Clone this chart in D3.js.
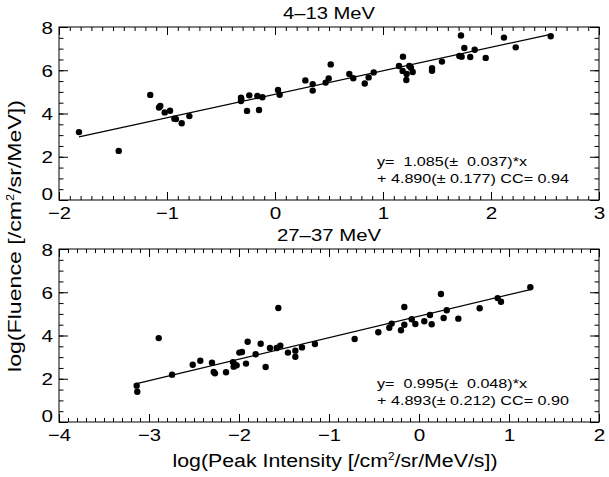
<!DOCTYPE html>
<html>
<head>
<meta charset="utf-8">
<script src="https://cdn.jsdelivr.net/npm/d3@7"></script>
<style>
  body { margin: 0; background: #fff; }
  svg { display: block; font-family: "Liberation Sans", Arial, sans-serif; }
</style>
</head>
<body>
<div id="chart"></div>
<script>
// 4-13 MeV channel
const topX = [-1.815, -1.447, -1.155, -1.074, -1.062, -1.021, -0.972, -0.932, -0.917, -0.864, -0.793,
  -0.315, -0.315, -0.312, -0.259, -0.238, -0.164, -0.148, -0.117, 0.028, 0.043, 0.281, 0.349, 0.349,
  0.469, 0.497, 0.516, 0.688, 0.725, 0.831, 0.867, 0.914, 1.148, 1.185, 1.182, 1.219, 1.216, 1.244,
  1.259, 1.275, 1.454, 1.454, 1.546, 1.707, 1.728, 1.722, 1.753, 1.808, 1.849, 1.951, 2.120, 2.229, 2.553];
const topY = [3.14, 2.27, 4.86, 4.28, 4.35, 4.05, 4.13, 3.76, 3.74, 3.55, 3.88,
  4.73, 4.58, 4.66, 4.12, 4.84, 4.81, 4.16, 4.75, 5.09, 4.87, 5.53, 5.36, 5.06,
  5.43, 5.62, 6.27, 5.83, 5.63, 5.39, 5.67, 5.90, 6.20, 6.63, 5.97, 5.83, 5.55, 6.20,
  6.12, 5.92, 6.09, 5.98, 6.40, 6.66, 6.63, 7.61, 7.03, 6.61, 6.95, 6.57, 7.51, 7.06, 7.57];

// 27-37 MeV channel
const botX = [-3.137, -3.130, -2.892, -2.744, -2.514, -2.430, -2.300, -2.281, -2.267, -2.144, -2.067,
  -2.059, -2.026, -2.048, -1.996, -1.967, -1.922, -1.904, -1.815, -1.759, -1.704, -1.656, -1.581,
  -1.563, -1.541, -1.456, -1.374, -1.374, -1.300, -1.156, -0.715, -0.452, -0.330, -0.304, -0.200,
  -0.163, -0.163, -0.081, -0.041, 0.059, 0.122, 0.141, 0.244, 0.274, 0.308, 0.437, 0.674, 0.874, 0.911, 1.237];
const botY = [1.68, 1.40, 3.88, 2.19, 2.65, 2.83, 2.74, 2.31, 2.25, 2.30, 2.77,
  2.56, 2.62, 2.67, 3.21, 3.24, 2.70, 3.71, 3.13, 3.62, 2.54, 3.42, 3.42,
  5.27, 3.53, 3.21, 3.30, 3.02, 3.45, 3.61, 3.84, 4.15, 4.36, 4.55, 4.24,
  5.32, 4.50, 4.75, 4.53, 4.66, 4.95, 4.52, 5.92, 4.81, 5.17, 4.78, 5.26, 5.73, 5.56, 6.23];

const titles = ['4\u201313 MeV', '27\u201337 MeV'];
const slopes = [1.085, 0.995];
const intercepts = [4.890, 4.893];
const fitLine1 = ['y=  1.085(\u00b1  0.037)*x', 'y=  0.995(\u00b1  0.048)*x'];
const fitLine2 = ['+ 4.890(\u00b1 0.177) CC= 0.94', '+ 4.893(\u00b1 0.212) CC= 0.90'];
const xDomains = [[-2, 3], [-4, 2]];
const xTicks = [[-2, -1, 0, 1, 2, 3], [-4, -3, -2, -1, 0, 1, 2]];
const yTicks = [0, 2, 4, 6, 8];

const W = 609, H = 477;
const left = 59, right = 599, plotH = 173;
const panelTops = [27, 249];

const svg = d3.select('#chart').append('svg')
  .attr('width', W)
  .attr('height', H);

const fmt = d3.format('d');
// labels in the reference are a little wider than the font
const labelLen = (d) => (d < 0 ? 23 : 11.5);

function drawPanel(i, xs, ys) {
  const top = panelTops[i];
  const bottom = top + plotH;
  const x = d3.scaleLinear().domain(xDomains[i]).range([left, right]);
  const y = d3.scaleLinear().domain([0, 8]).range([bottom, top]);
  const g = svg.append('g').attr('class', 'panel');

  const xMinor = d3.range(xDomains[i][0], xDomains[i][1] + 0.001, 0.1);
  const yMinor = d3.range(0, 8.001, 0.5);

  // minor ticks, all four sides
  const minor = [
    [d3.axisBottom(x).tickValues(xMinor).tickSize(-4), `translate(0,${bottom})`],
    [d3.axisTop(x).tickValues(xMinor).tickSize(-4), `translate(0,${top})`],
    [d3.axisLeft(y).tickValues(yMinor).tickSize(-4.5), `translate(${left},0)`],
    [d3.axisRight(y).tickValues(yMinor).tickSize(-4.5), `translate(${right},0)`],
  ];
  minor.forEach(([ax, tr]) => {
    const a = g.append('g').attr('transform', tr).call(ax.tickFormat(''));
    a.select('.domain').remove();
  });

  // major ticks
  const xb = g.append('g').attr('transform', `translate(0,${bottom})`)
    .call(d3.axisBottom(x).tickValues(xTicks[i]).tickSize(-8).tickFormat(fmt));
  g.append('g').attr('transform', `translate(0,${top})`)
    .call(d3.axisTop(x).tickValues(xTicks[i]).tickSize(-8).tickFormat(''));
  const yl = g.append('g').attr('transform', `translate(${left},0)`)
    .call(d3.axisLeft(y).tickValues(yTicks).tickSize(-9).tickPadding(6).tickFormat(fmt));
  g.append('g').attr('transform', `translate(${right},0)`)
    .call(d3.axisRight(y).tickValues(yTicks).tickSize(-9).tickFormat(''));

  g.selectAll('.domain').remove();
  g.selectAll('.tick line').attr('stroke', '#000').attr('stroke-width', 1);
  [xb, yl].forEach((a) => a.selectAll('text')
    .attr('font-size', 17)
    .attr('font-family', '"Liberation Sans", Arial, sans-serif')
    .attr('fill', '#000')
    .attr('textLength', labelLen)
    .attr('lengthAdjust', 'spacingAndGlyphs'));
  xb.selectAll('text').attr('y', 19).attr('dy', null);
  yl.selectAll('text').attr('y', (d) => (d === 0 ? -0.5 : 6)).attr('dy', null);

  // frame
  g.append('rect')
    .attr('x', left).attr('y', top)
    .attr('width', right - left).attr('height', plotH)
    .attr('fill', 'none').attr('stroke', '#000').attr('stroke-width', 1);

  // fit line over the data range
  const ext = d3.extent(xs);
  g.append('line')
    .attr('x1', x(ext[0])).attr('y1', y(slopes[i] * ext[0] + intercepts[i]))
    .attr('x2', x(ext[1])).attr('y2', y(slopes[i] * ext[1] + intercepts[i]))
    .attr('stroke', '#000').attr('stroke-width', 1.3);

  // points
  g.selectAll('circle.pt')
    .data(xs.map((d, k) => [d, ys[k]]))
    .enter()
    .append('circle')
    .attr('class', 'pt')
    .attr('cx', (d) => x(d[0]))
    .attr('cy', (d) => y(d[1]))
    .attr('r', 3.2)
    .attr('fill', '#000');

  // title
  g.append('text')
    .attr('x', (left + right) / 2).attr('y', top - 7.7)
    .attr('text-anchor', 'middle')
    .attr('font-size', 17)
    .attr('textLength', i === 0 ? 92 : 104)
    .attr('lengthAdjust', 'spacingAndGlyphs')
    .text(titles[i]);

  // fit annotation
  g.append('text')
    .attr('x', 377).attr('y', bottom - 34)
    .attr('font-size', 13)
    .attr('textLength', 150)
    .attr('lengthAdjust', 'spacingAndGlyphs')
    .style('white-space', 'pre')
    .text(fitLine1[i]);
  g.append('text')
    .attr('x', 377).attr('y', bottom - 17)
    .attr('font-size', 13)
    .attr('textLength', 192)
    .attr('lengthAdjust', 'spacingAndGlyphs')
    .style('white-space', 'pre')
    .text(fitLine2[i]);
}

drawPanel(0, topX, topY);
drawPanel(1, botX, botY);

// axis titles
const xl = svg.append('text')
  .attr('x', 335).attr('y', 466.5)
  .attr('text-anchor', 'middle')
  .attr('font-size', 18)
  .attr('textLength', 325)
  .attr('lengthAdjust', 'spacingAndGlyphs');
xl.append('tspan').text('log(Peak Intensity [/cm');
xl.append('tspan').attr('font-size', 10).attr('dy', -7).text('2');
xl.append('tspan').attr('dy', 7).text('/sr/MeV/s])');

const ylab = svg.append('text')
  .attr('transform', 'translate(21,236) rotate(-90)')
  .attr('text-anchor', 'middle')
  .attr('font-size', 18)
  .attr('textLength', 272)
  .attr('lengthAdjust', 'spacingAndGlyphs');
ylab.append('tspan').text('log(Fluence [/cm');
ylab.append('tspan').attr('font-size', 10).attr('dy', -7).text('2');
ylab.append('tspan').attr('dy', 7).text('/sr/MeV])');
</script>
</body>
</html>
